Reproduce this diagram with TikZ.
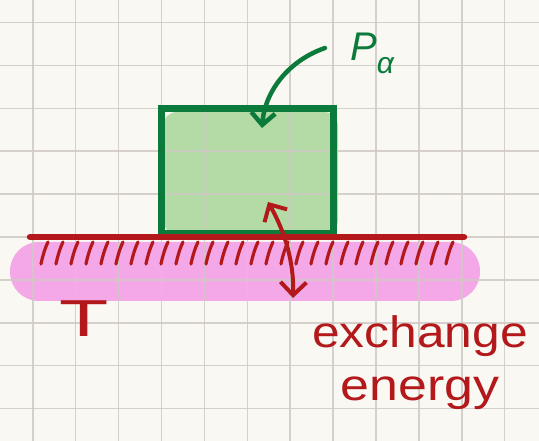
\documentclass[tikz,border=0pt]{standalone}
\usepackage{fontspec}
\setmainfont{Liberation Sans}
\usetikzlibrary{arrows.meta}
\definecolor{paper}{HTML}{FAF8F3}
\definecolor{gridc}{HTML}{CFCAC4}
\definecolor{boxgreen}{HTML}{0B7A3B}
\definecolor{lightgreen}{HTML}{A3D492}
\definecolor{inkred}{HTML}{B3191B}
\definecolor{pinkband}{HTML}{F59BE5}
\tikzset{
  gridline/.style={gridc, line width=1.5pt},
  redink/.style={inkred, line cap=round, line join=round},
  greenink/.style={boxgreen, line cap=round, line join=round},
}
\begin{document}
\begin{tikzpicture}[x=1pt,y=-1pt]
\useasboundingbox (0,0) rectangle (539,441);
\fill[paper] (0,0) rectangle (539,441);
% fills under grid
\fill[pinkband, fill opacity=0.85, rounded corners=29pt] (10,242) rectangle (480,301);
\fill[lightgreen, fill opacity=0.8, rounded corners=14pt] (163,112) rectangle (338,234);
% grid
\foreach \i in {0,...,11} {
  \draw[gridline, draw opacity=0.85] ({32.8+42.9*\i},0) -- ({32.8+42.9*\i},441);
}
\foreach \j in {0,...,9} {
  \draw[gridline, draw opacity=0.85] (0,{22.5+42.9*\j}) -- (539,{22.5+42.9*\j});
}
% box
\node[draw=boxgreen, line width=7pt, minimum width=171.5pt, minimum height=125.5pt, inner sep=0pt] (box) at (247.25,171.25) {};
% ground line
\coordinate (gl) at (30,237);
\coordinate (gr) at (464,237);
\draw[redink, line width=6.5pt] (gl) -- (gr);
% hatching
\foreach \x in {41,56,...,460} {
  \draw[redink, line width=3.2pt] (\x+7,242) .. controls (\x+5,246) and (\x+2,254) .. (\x,264);
}
% T label
\node[inkred, font=\fontsize{52}{52}\selectfont] (T) at (84,319) {\scalebox{1.55}[1]{T}};
% P alpha label
\node[boxgreen, font=\fontsize{40}{40}\selectfont\itshape, inner sep=0pt] (P) at (372,53) {P\raisebox{-13pt}{\fontsize{30}{30}\selectfont α}};
\coordinate (pstart) at (325,48);
\coordinate (ptip) at (262,128);
\draw[greenink, line width=4.5pt, -{Straight Barb[length=12pt,width=24pt,line width=4.5pt]}] (pstart) .. controls (290,60) and (265,90) .. (ptip);
% double arrow
\coordinate (aup) at (268,202);
\coordinate (adown) at (293,298);
\draw[redink, line width=4pt, {Straight Barb[length=13pt,width=26pt,line width=4pt]}-{Straight Barb[length=13pt,width=26pt,line width=4pt]}] (aup) .. controls (285,232) and (294,262) .. (adown);
% exchange energy
\node[inkred, font=\fontsize{44}{53}\selectfont, align=center, anchor=north] (ex) at (420,312) {\scalebox{1.13}[1]{exchange}\\\scalebox{1.18}[1]{energy}};
\end{tikzpicture}
\end{document}
